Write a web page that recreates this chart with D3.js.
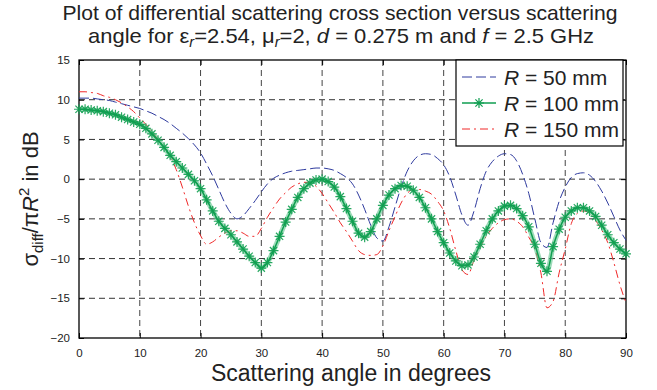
<!DOCTYPE html>
<html><head><meta charset="utf-8">
<script src="https://cdn.jsdelivr.net/npm/d3@7"></script>
<style>
body{margin:0;background:#fff;}
svg{display:block;font-family:"Liberation Sans",Arial,sans-serif;}
</style></head>
<body><svg id="c" width="657" height="390"></svg>
<script>
// ---- data ----
const angles = d3.range(0, 91, 1); // degrees 0..90
const seriesNames = ["R = 50 mm", "R = 100 mm", "R = 150 mm"];
const r50 = [10.2,10.2,10.2,10.1,10.0,9.9,9.7,9.5,9.3,9.1,
  8.9,8.6,8.3,7.9,7.5,7.0,6.4,5.8,5.1,4.3,
  3.3,1.9,0.4,-1.3,-3.0,-4.3,-5.0,-4.6,-3.7,-2.7,
  -1.6,-0.6,0.1,0.5,0.8,1.0,1.1,1.2,1.3,1.4,
  1.4,1.3,1.1,0.7,0.2,-0.6,-2.0,-3.8,-5.8,-7.4,
  -7.8,-6.0,-3.5,-1.0,1.0,2.3,3.0,3.2,3.1,2.6,
  1.8,0.3,-2.0,-4.5,-5.8,-4.0,-1.2,1.0,2.2,2.9,
  3.2,3.1,2.3,0.6,-1.8,-5.0,-8.0,-8.6,-5.5,-2.8,
  -1.0,0.2,0.7,0.8,0.5,-0.3,-1.5,-3.0,-4.7,-6.4,-7.7];
const r100 = [8.8,8.8,8.7,8.6,8.5,8.3,8.1,7.8,7.5,7.2,
  6.9,6.4,5.7,4.9,4.0,3.0,2.2,1.4,0.6,-0.2,
  -1.2,-2.6,-4.0,-5.3,-6.2,-7.0,-7.9,-8.8,-9.7,-10.5,
  -11.2,-10.5,-9.0,-7.2,-5.4,-3.8,-2.3,-1.2,-0.5,-0.1,
  0.0,-0.3,-1.0,-2.2,-3.7,-5.3,-6.8,-7.3,-6.6,-5.0,
  -3.3,-2.0,-1.2,-0.8,-0.9,-1.4,-2.3,-3.6,-5.0,-6.6,
  -8.0,-9.3,-10.3,-10.9,-10.8,-9.8,-8.2,-6.5,-5.0,-4.0,
  -3.4,-3.3,-3.7,-4.6,-6.0,-8.2,-10.6,-11.6,-8.5,-6.3,
  -4.8,-4.0,-3.6,-3.6,-4.0,-4.7,-5.8,-7.0,-8.0,-8.8,-9.4];
const r150 = [11.0,11.0,10.9,10.8,10.5,10.3,10.0,9.6,9.1,8.5,
  7.7,6.9,6.0,5.0,4.0,2.9,1.2,-1.0,-3.4,-5.5,
  -7.1,-8.2,-7.9,-7.3,-6.8,-6.5,-6.5,-6.8,-7.2,-7.2,
  -6.2,-4.8,-3.6,-2.5,-1.7,-1.0,-0.6,-0.4,-0.4,-0.9,
  -1.8,-3.0,-4.2,-5.5,-6.6,-7.8,-9.0,-9.5,-9.6,-9.5,
  -8.4,-6.5,-4.7,-3.0,-1.8,-1.3,-1.3,-1.5,-1.9,-2.8,
  -4.0,-6.2,-9.0,-11.4,-12.0,-10.2,-8.6,-7.2,-6.2,-5.5,
  -5.1,-5.0,-5.3,-6.0,-7.3,-8.8,-11.8,-16.2,-15.4,-11.8,
  -8.8,-5.6,-4.3,-4.0,-4.3,-5.2,-6.4,-8.0,-10.5,-13.3,-15.6];
const xTicks = [0,10,20,30,40,50,60,70,80,90];
const yTicks = [-20,-15,-10,-5,0,5,10,15];

// ---- layout ----
const L = 79, R = 626, T = 60, B = 338;
const svg = d3.select("#c");
const x = d3.scaleLinear().domain([0, 90]).range([L, R]);
const y = d3.scaleLinear().domain([-20, 15]).range([B, T]);

const cBlue = "#2e3a9e", cGreen = "#0f9e50", cRed = "#f02828";

// grid
const grid = svg.append("g");
xTicks.slice(1, -1).forEach(t => grid.append("line")
  .attr("x1", x(t)).attr("x2", x(t)).attr("y1", T).attr("y2", B)
  .attr("stroke", "#444").attr("stroke-width", 1).attr("stroke-dasharray", "6,4"));
yTicks.slice(1, -1).forEach(t => grid.append("line")
  .attr("x1", L).attr("x2", R).attr("y1", y(t)).attr("y2", y(t))
  .attr("stroke", "#333").attr("stroke-width", 1).attr("stroke-dasharray", "6,4"));

// axes
const fs = 11.5;
const ax = svg.append("g").attr("transform", `translate(0,${B})`)
  .call(d3.axisBottom(x).tickValues(xTicks).tickSizeInner(-5).tickSizeOuter(0).tickPadding(11));
const axT = svg.append("g").attr("transform", `translate(0,${T})`)
  .call(d3.axisTop(x).tickValues(xTicks).tickSizeInner(-5).tickSizeOuter(0).tickFormat(""));
const ay = svg.append("g").attr("transform", `translate(${L},0)`)
  .call(d3.axisLeft(y).tickValues(yTicks).tickSizeInner(-5).tickSizeOuter(0).tickPadding(9));
const ayR = svg.append("g").attr("transform", `translate(${R},0)`)
  .call(d3.axisRight(y).tickValues(yTicks).tickSizeInner(-5).tickSizeOuter(0).tickFormat(""));
[ax, axT, ay, ayR].forEach(g => {
  g.select(".domain").remove();
  g.selectAll("line").attr("stroke", "#000");
  g.selectAll("text").attr("font-size", fs).attr("fill", "#222")
   .attr("font-family", "'Liberation Sans',Arial,sans-serif");
});
svg.append("rect").attr("x", L).attr("y", T).attr("width", R - L).attr("height", B - T)
  .attr("fill", "none").attr("stroke", "#000").attr("stroke-width", 1.3);

// curves
const line = d3.line().x((d, i) => x(angles[i])).y(d => y(d)).curve(d3.curveMonotoneX);
svg.append("path").datum(r50).attr("d", line).attr("fill", "none")
  .attr("stroke", cBlue).attr("stroke-width", 1).attr("stroke-dasharray", "10,4");
svg.append("path").datum(r150).attr("d", line).attr("fill", "none")
  .attr("stroke", cRed).attr("stroke-width", 1).attr("stroke-dasharray", "8,4,2,4");
svg.append("path").datum(r100).attr("d", line).attr("fill", "none")
  .attr("stroke", "#5cc38a").attr("stroke-width", 5).attr("stroke-opacity", 0.6);
svg.append("path").datum(r100).attr("d", line).attr("fill", "none")
  .attr("stroke", cGreen).attr("stroke-width", 1.5);
const star = "M-5,0H5M0,-5V5M-3.6,-3.6L3.6,3.6M-3.6,3.6L3.6,-3.6";
svg.append("g").selectAll("path").data(r100).join("path")
  .attr("transform", (d, i) => `translate(${x(angles[i])},${y(d)})`)
  .attr("d", star).attr("fill", "none").attr("stroke", cGreen).attr("stroke-width", 1.2)
  .attr("stroke-opacity", 0.9);

// legend
const lg = svg.append("g");
lg.append("rect").attr("x", 456).attr("y", T).attr("width", 167).attr("height", 86)
  .attr("fill", "#fff").attr("stroke", "#000").attr("stroke-width", 1.2);
const rows = [77, 103, 129];
const styles = [[cBlue, "10,4", 1], [cGreen, null, 1.5], [cRed, "8,4,2,4", 1]];
rows.forEach((ry, i) => {
  const l = lg.append("line").attr("x1", 462).attr("x2", 496).attr("y1", ry).attr("y2", ry)
    .attr("stroke", styles[i][0]).attr("stroke-width", styles[i][2]);
  if (styles[i][1]) l.attr("stroke-dasharray", styles[i][1]);
  if (i === 1) lg.append("path").attr("transform", `translate(479,${ry})`).attr("d", star)
    .attr("fill", "none").attr("stroke", cGreen).attr("stroke-width", 1.2);
  const t = lg.append("text").attr("x", 504).attr("y", ry + 8).attr("font-size", 21).attr("fill", "#222");
  t.append("tspan").attr("font-style", "italic").text("R");
  t.append("tspan").text(seriesNames[i].slice(1));
});

// title
svg.append("text").attr("x", 340).attr("y", 20).attr("text-anchor", "middle")
  .attr("font-size", 21).attr("fill", "#222")
  .attr("textLength", 555).attr("lengthAdjust", "spacingAndGlyphs")
  .text("Plot of differential scattering cross section versus scattering");
const t2 = svg.append("text").attr("x", 341).attr("y", 43).attr("text-anchor", "middle")
  .attr("font-size", 21).attr("fill", "#222")
  .attr("textLength", 506).attr("lengthAdjust", "spacingAndGlyphs");
t2.append("tspan").text("angle for ε");
t2.append("tspan").attr("font-style", "italic").attr("font-size", 14).attr("dy", 4).text("r");
t2.append("tspan").attr("dy", -4).text("=2.54, μ");
t2.append("tspan").attr("font-style", "italic").attr("font-size", 14).attr("dy", 4).text("r");
t2.append("tspan").attr("dy", -4).text("=2,  ");
t2.append("tspan").attr("font-style", "italic").text("d");
t2.append("tspan").text(" = 0.275 m and  ");
t2.append("tspan").attr("font-style", "italic").text("f");
t2.append("tspan").text(" = 2.5 GHz");

// x label
svg.append("text").attr("x", 351).attr("y", 381).attr("text-anchor", "middle")
  .attr("font-size", 23).attr("fill", "#222").text("Scattering angle in degrees");

// y label
const yl = svg.append("text").attr("transform", `translate(38,${(T + B) / 2}) rotate(-90)`)
  .attr("text-anchor", "middle").attr("font-size", 22).attr("fill", "#222");
yl.append("tspan").text("σ");
yl.append("tspan").attr("font-size", 15).attr("dy", 5).text("diff");
yl.append("tspan").attr("dy", -5).text("/π");
yl.append("tspan").attr("font-style", "italic").text("R");
yl.append("tspan").attr("font-size", 15).attr("dy", -9).text("2");
yl.append("tspan").attr("dy", 9).text(" in dB");
</script></body></html>
